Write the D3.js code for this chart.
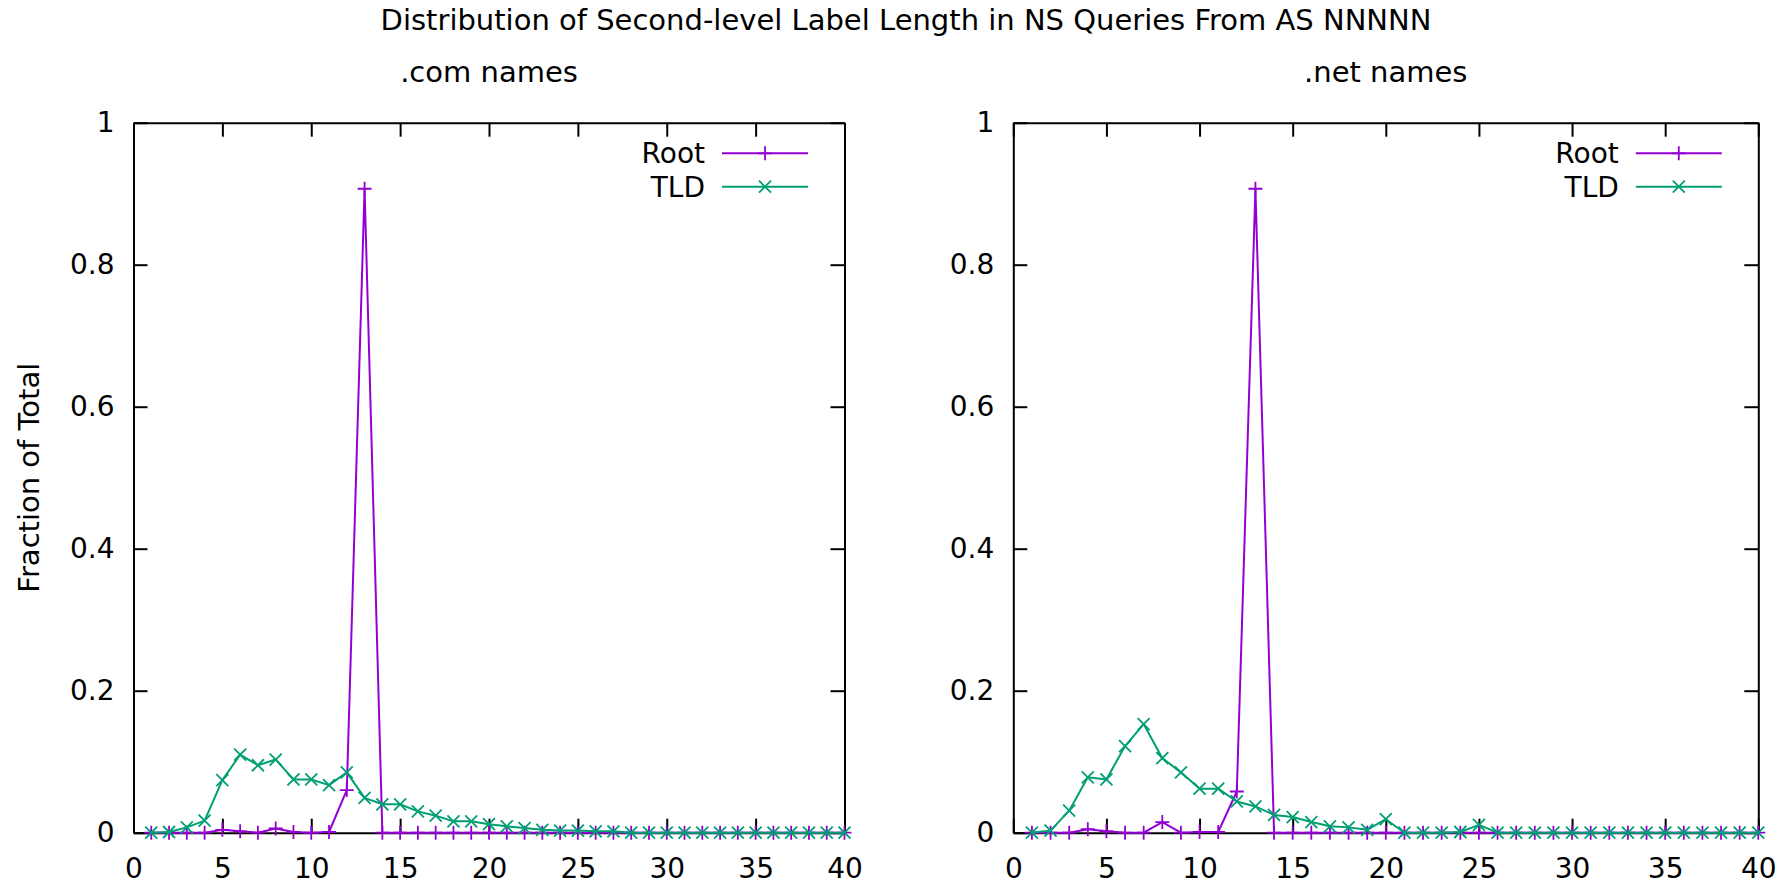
<!DOCTYPE html>
<html>
<head>
<meta charset="utf-8">
<script src="https://cdn.jsdelivr.net/npm/d3@7"></script>
<style>
  body { margin: 0; background: #fff; }
  svg { display: block; font-family: "DejaVu Sans", sans-serif; }
</style>
</head>
<body>
<svg width="1788" height="884"></svg>
<script>
// label lengths (x) and fractions
const lengths = [1,2,3,4,5,6,7,8,9,10,11,12,13,14,15,16,17,18,19,20,
                 21,22,23,24,25,26,27,28,29,30,31,32,33,34,35,36,37,38,39,40];

const comRoot = [0,0,0,0,0.004,0.002,0,0.006,0.001,0,0.001,0.060,0.907,0,0,0,0,0,0,0,
                 0,0,0,0,0,0,0,0,0,0,0,0,0,0,0,0,0,0,0,0];
const comTLD  = [0,0.001,0.0075,0.017,0.074,0.110,0.095,0.103,0.075,0.075,0.067,0.085,0.049,0.040,0.040,0.030,0.024,0.016,0.016,0.012,
                 0.009,0.0066,0.004,0.003,0.003,0.002,0.002,0,0,0,0,0,0,0,0,0,0,0,0,0];
const netRoot = [0,0,0,0.005,0.002,0,0,0.015,0,0.001,0.001,0.058,0.907,0,0,0,0,0,0,0,
                 0,0,0,0,0,0,0,0,0,0,0,0,0,0,0,0,0,0,0,0];
const netTLD  = [0,0.003,0.031,0.078,0.075,0.122,0.153,0.105,0.085,0.062,0.062,0.044,0.037,0.025,0.022,0.015,0.009,0.0075,0.004,0.019,
                 0,0,0,0.001,0.011,0,0,0,0,0,0,0,0,0,0,0,0,0,0,0];

const xTicks = [0,5,10,15,20,25,30,35,40];
const yTicks = [0,0.2,0.4,0.6,0.8,1];
const yTickLabels = ["0","0.2","0.4","0.6","0.8","1"];

const seriesNames = ["Root", "TLD"];
const seriesColors = ["#9400d3", "#009e73"];

const mainTitle = "Distribution of Second-level Label Length in NS Queries From AS NNNNN";
const yTitle = "Fraction of Total";

const fontSize = 28;
const titleSize = 29;
const svg = d3.select("svg");

// panel layout
const panels = [
  {title: ".com names", left: 133.5, right: 844.5, series: [comRoot, comTLD]},
  {title: ".net names", left: 1013.3, right: 1758.3, series: [netRoot, netTLD]}
];
const plotTop = 122.7, plotBottom = 832.7;

svg.append("text")
  .attr("x", 906).attr("y", 30)
  .attr("text-anchor", "middle")
  .attr("font-size", titleSize)
  .text(mainTitle);

svg.append("text")
  .attr("transform", `translate(39, ${(plotTop + plotBottom) / 2}) rotate(-90)`)
  .attr("text-anchor", "middle")
  .attr("font-size", titleSize)
  .text(yTitle);

// marker shapes
const plusPath = "M-7,0H7M0,-7V7";
const crossPath = "M-6,-6L6,6M6,-6L-6,6";
const markers = [plusPath, crossPath];

panels.forEach(p => {
  const w = p.right - p.left, h = plotBottom - plotTop;
  const g = svg.append("g").attr("transform", `translate(${p.left}, ${plotTop})`);

  const x = d3.scaleLinear().domain([0, 40]).range([0, w]);
  const y = d3.scaleLinear().domain([0, 1]).range([h, 0]);

  // subtitle
  svg.append("text")
    .attr("x", (p.left + p.right) / 2).attr("y", 82)
    .attr("text-anchor", "middle")
    .attr("font-size", titleSize)
    .text(p.title);

  // axes, ticks inward, mirrored on top/right
  const xAxis = g.append("g").attr("transform", `translate(0, ${h})`)
    .call(d3.axisBottom(x).tickValues(xTicks).tickSizeInner(-14).tickSizeOuter(0).tickPadding(25));
  const yAxis = g.append("g")
    .call(d3.axisLeft(y).tickValues(yTicks).tickFormat((d, i) => yTickLabels[i])
      .tickSizeInner(-14).tickSizeOuter(0).tickPadding(19));
  const xTop = g.append("g")
    .call(d3.axisTop(x).tickValues(xTicks).tickSizeInner(-14).tickSizeOuter(0).tickFormat(""));
  const yRight = g.append("g").attr("transform", `translate(${w}, 0)`)
    .call(d3.axisRight(y).tickValues(yTicks).tickSizeInner(-14).tickSizeOuter(0).tickFormat(""));

  [xAxis, yAxis, xTop, yRight].forEach(a => {
    a.select(".domain").attr("stroke", "#000").attr("stroke-width", 2);
    a.selectAll(".tick line").attr("stroke", "#000").attr("stroke-width", 2);
    a.selectAll(".tick text")
      .attr("font-size", fontSize)
      .attr("font-family", "DejaVu Sans, sans-serif")
      .attr("fill", "#000");
  });

  // series
  const line = d3.line().x((d, i) => x(lengths[i])).y(d => y(d));
  p.series.forEach((vals, si) => {
    g.append("path")
      .datum(vals)
      .attr("d", line)
      .attr("fill", "none")
      .attr("stroke", seriesColors[si])
      .attr("stroke-width", 2)
      .attr("stroke-linejoin", "round");

    g.selectAll(null).data(vals).enter().append("path")
      .attr("transform", (d, i) => `translate(${x(lengths[i])}, ${y(d)})`)
      .attr("d", markers[si])
      .attr("fill", "none")
      .attr("stroke", seriesColors[si])
      .attr("stroke-width", 1.8);
  });

  // legend
  const legRight = w - 36.5;
  seriesNames.forEach((name, si) => {
    const ly = 30.6 + si * 33.4;
    const lg = g.append("g").attr("transform", `translate(0, ${ly})`);
    lg.append("text")
      .attr("x", legRight - 103).attr("y", 0).attr("dy", "0.36em")
      .attr("text-anchor", "end")
      .attr("font-size", fontSize)
      .text(name);
    lg.append("line")
      .attr("x1", legRight - 86).attr("x2", legRight)
      .attr("y1", 0).attr("y2", 0)
      .attr("stroke", seriesColors[si]).attr("stroke-width", 2);
    lg.append("path")
      .attr("transform", `translate(${legRight - 43}, 0)`)
      .attr("d", markers[si])
      .attr("fill", "none")
      .attr("stroke", seriesColors[si]).attr("stroke-width", 1.8);
  });
});
</script>
</body>
</html>
